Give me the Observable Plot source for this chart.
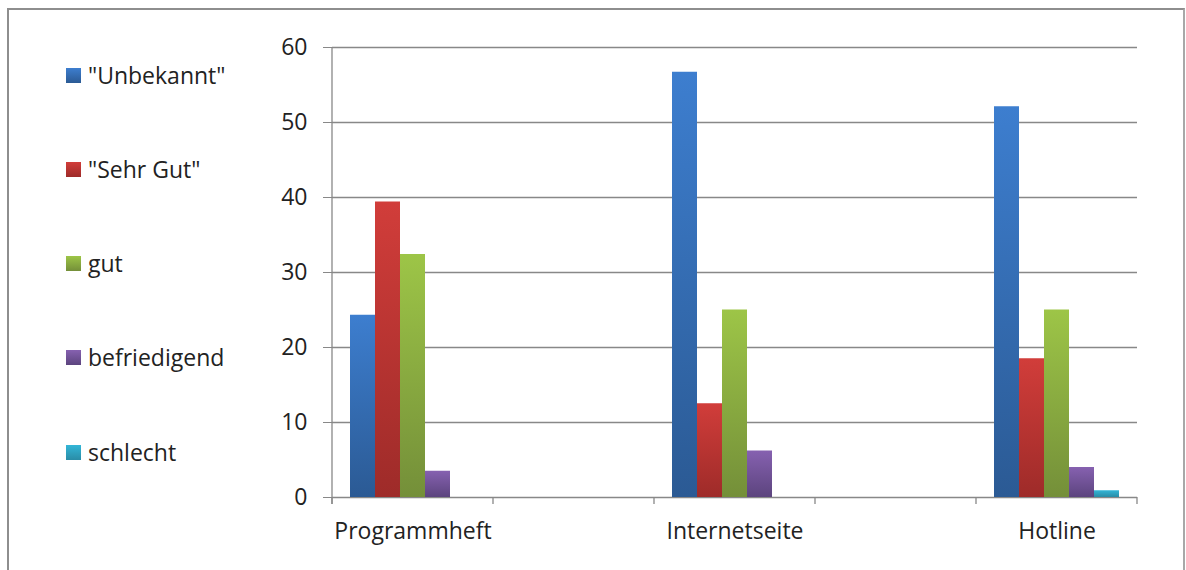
<!DOCTYPE html>
<html>
<head>
<meta charset="utf-8">
<script src="https://cdn.jsdelivr.net/npm/d3@7"></script>
<script src="https://cdn.jsdelivr.net/npm/@observablehq/plot@0.6"></script>
<style>
  body { margin: 0; background: #fff; font-family: "Open Sans", sans-serif; }
  #wrap { position: relative; width: 1186px; height: 570px; overflow: hidden; background: #fff; }
  #chart { position: absolute; left: 0; top: 0; }
  #border { position: absolute; left: 7px; top: 8px; width: 1178px; height: 620px; border: 2px solid #8e8e8e; border-right-color: #a8a8a8; box-sizing: border-box; pointer-events: none; }
  #legend { position: absolute; left: 66px; top: 0; }
  .item { position: absolute; left: 0; display: flex; align-items: center; white-space: nowrap; font-size: 23px; color: #222; line-height: 1; }
  .sw { width: 15px; height: 15px; margin-right: 7px; flex: none; }
</style>
</head>
<body>
<div id="wrap">
  <div id="chart"></div>
  <div id="legend"></div>
  <div id="border"></div>
</div>
<script>
// ---- data ----
const categories = ["Programmheft", " ", "Internetseite", "  ", "Hotline"];
const series = ['"Unbekannt"', '"Sehr Gut"', "gut", "befriedigend", "schlecht"];
const programmheft = [24.3, 39.4, 32.4, 3.5, 0];
const internetseite = [56.7, 12.5, 25.0, 6.2, 0];
const hotline = [52.1, 18.5, 25.0, 4.0, 0.9];
const yTicks = [0, 10, 20, 30, 40, 50, 60];
const colorTop = ["#3d7ecf", "#d13d3a", "#9dc547", "#8661b0", "#33b6d7"];
const colorBottom = ["#2b5a94", "#9e2b29", "#748f39", "#5c447e", "#2a8ca6"];

// ---- tables ----
const rows = [];
[["Programmheft", programmheft], ["Internetseite", internetseite], ["Hotline", hotline]]
  .forEach(([c, vals]) => vals.forEach((v, i) => rows.push({category: c, series: series[i], value: v})));
const gridRows = categories.flatMap(c => yTicks.map(t => ({category: c, tick: t})));

const plot = Plot.plot({
  width: 1186,
  height: 570,
  marginLeft: 331,
  marginRight: 49,
  marginTop: 47,
  marginBottom: 73,
  style: {fontFamily: "Open Sans", fontSize: "23px", color: "#222", background: "transparent", overflow: "visible"},
  fx: {domain: categories, padding: 0, label: null},
  x: {domain: series, paddingInner: 0, paddingOuter: 0.72, axis: null},
  y: {domain: [0, 60], label: null},
  color: {domain: series, range: series.map((s, i) => `url(#grad${i})`)},
  marks: [
    Plot.ruleY(gridRows, {fx: "category", y: "tick", stroke: "#888888", strokeWidth: 1.3}),
    Plot.axisY(yTicks, {tickSize: 9, tickPadding: 16, stroke: "#888888", fill: "#222", label: null, fontSize: 23}),
    Plot.axisFx({anchor: "bottom", tickSize: 0, tickPadding: 25, fill: "#222", label: null, fontSize: 23}),
    Plot.barY(rows, {fx: "category", x: "series", y: "value", fill: "series"})
  ]
});

// gradients
const svg = d3.select(plot);
const defs = svg.insert("defs", ":first-child");
series.forEach((s, i) => {
  const g = defs.append("linearGradient").attr("id", `grad${i}`)
    .attr("x1", 0).attr("y1", 0).attr("x2", 0).attr("y2", 1);
  g.append("stop").attr("offset", "0%").attr("stop-color", colorTop[i]);
  g.append("stop").attr("offset", "100%").attr("stop-color", colorBottom[i]);
});

// axis line and category-boundary ticks, from the plot's own scales
const fx = plot.scale("fx"), y = plot.scale("y");
const y0 = y.apply(0), yTop = y.apply(yTicks[yTicks.length - 1]);
const bounds = categories.map(c => fx.apply(c));
bounds.push(fx.apply(categories[categories.length - 1]) + fx.bandwidth);
const ax = svg.append("g").attr("stroke", "#888888").attr("stroke-width", 1.3);
ax.append("line").attr("x1", bounds[0]).attr("x2", bounds[0]).attr("y1", yTop).attr("y2", y0 + 7);
bounds.forEach(bx => ax.append("line").attr("x1", bx).attr("x2", bx).attr("y1", y0).attr("y2", y0 + 7));

document.getElementById("chart").appendChild(plot);

// legend
const legend = d3.select("#legend");
series.forEach((s, i) => {
  const it = legend.append("div").attr("class", "item").style("top", (75 + i * 94.3 - 12) + "px").style("height", "24px");
  it.append("div").attr("class", "sw").style("background", `linear-gradient(${colorTop[i]}, ${colorBottom[i]})`);
  it.append("span").text(s);
});
</script>
</body>
</html>
